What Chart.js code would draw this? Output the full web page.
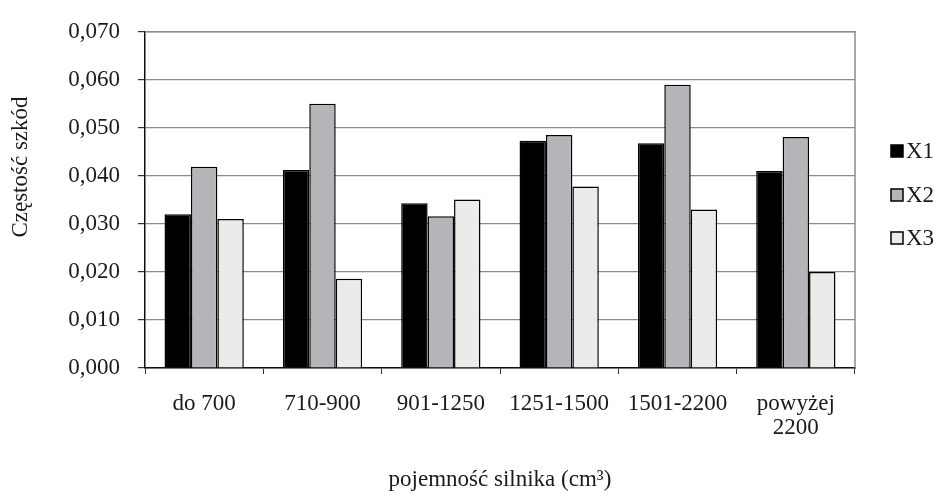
<!DOCTYPE html>
<html><head><meta charset="utf-8">
<script src="https://cdn.jsdelivr.net/npm/chart.js@4/dist/chart.umd.min.js"></script>
<style>html,body{margin:0;padding:0;background:#fff}#wrap{width:939px;height:494px}</style>
</head><body><div id="wrap"><canvas id="c" width="939" height="494"></canvas></div>
<script>
const categories = [['do 700'], ['710-900'], ['901-1250'], ['1251-1500'], ['1501-2200'], ['powyżej', '2200']];
const seriesNames = ['X1', 'X2', 'X3'];
const seriesX1 = [0.0320, 0.0412, 0.0343, 0.0473, 0.0468, 0.0410];
const seriesX2 = [0.0419, 0.0550, 0.0316, 0.0485, 0.0590, 0.0481];
const seriesX3 = [0.0310, 0.0186, 0.0351, 0.0378, 0.0330, 0.0200];
const yMin = 0, yMax = 0.07, yStep = 0.01;
const yTitle = 'Częstość szkód';
const xTitle = 'pojemność silnika (cm³)';

const FONT = 'Liberation Serif';
const FS = 23;
const TXT = '#1a1a1a';
const colors = ['#000000', '#b4b5b9', '#ebecea'];

const frame = {
  id: 'frame',
  afterDatasetsDraw(chart) {
    const {ctx, chartArea: a} = chart;
    ctx.save();
    ctx.strokeStyle = '#8c8c8c';
    ctx.lineWidth = 1.5;
    ctx.beginPath();
    ctx.moveTo(a.left, a.top);
    ctx.lineTo(a.right, a.top);
    ctx.lineTo(a.right, a.bottom);
    ctx.stroke();
    ctx.restore();
  },
  afterDraw(chart) {
    const ctx = chart.ctx;
    ctx.save();
    ctx.font = FS + 'px "' + FONT + '"';
    ctx.fillStyle = TXT;
    // y axis title
    ctx.save();
    ctx.translate(21, 167);
    ctx.rotate(-Math.PI / 2);
    ctx.textAlign = 'center';
    ctx.textBaseline = 'middle';
    ctx.fillText(yTitle, 0, 0);
    ctx.restore();
    // legend
    const ys = [151, 195, 238];
    chart.data.datasets.forEach((ds, i) => {
      const y = ys[i];
      ctx.fillStyle = ds.backgroundColor;
      ctx.fillRect(891, y - 6, 12, 12);
      ctx.strokeStyle = '#000';
      ctx.lineWidth = 1.5;
      ctx.strokeRect(891, y - 6, 12, 12);
      ctx.fillStyle = TXT;
      ctx.textBaseline = 'middle';
      ctx.textAlign = 'left';
      ctx.fillText(ds.label, 906, y + 1);
    });
    ctx.restore();
  }
};

new Chart(document.getElementById('c'), {
  type: 'bar',
  data: {
    labels: categories,
    datasets: [
      {label: seriesNames[0], data: seriesX1, backgroundColor: colors[0]},
      {label: seriesNames[1], data: seriesX2, backgroundColor: colors[1]},
      {label: seriesNames[2], data: seriesX3, backgroundColor: colors[2]}
    ].map(d => Object.assign(d, {borderColor: '#000', borderWidth: 1.5, categoryPercentage: 0.67, barPercentage: 1}))
  },
  options: {
    responsive: false,
    animation: false,
    devicePixelRatio: 1,
    layout: {padding: {left: 0, right: 84, top: 22, bottom: 0}},
    plugins: {legend: {display: false}, tooltip: {enabled: false}},
    scales: {
      x: {
        grid: {display: true, drawOnChartArea: false, drawTicks: true, tickLength: 6, color: '#333', offset: true},
        border: {display: true, color: '#111', width: 1.5},
        ticks: {font: {family: FONT, size: FS, lineHeight: 1.05}, color: TXT, padding: 18, maxRotation: 0, autoSkip: false},
        title: {display: true, text: xTitle, font: {family: FONT, size: FS}, color: TXT, padding: {top: 0, bottom: 0}},
        afterFit(s) { s.height = 126; }
      },
      y: {
        min: yMin, max: yMax,
        grid: {color: '#8c8c8c', lineWidth: 1.2, tickLength: 7, tickColor: '#333'},
        border: {display: true, color: '#111', width: 1.5},
        ticks: {stepSize: yStep, font: {family: FONT, size: FS}, color: TXT, padding: 18,
          callback: v => v.toFixed(3).replace('.', ',')},
        title: {display: false, text: yTitle},
        afterFit(s) { s.width = 145; }
      }
    }
  },
  plugins: [frame]
});
</script></body></html>
